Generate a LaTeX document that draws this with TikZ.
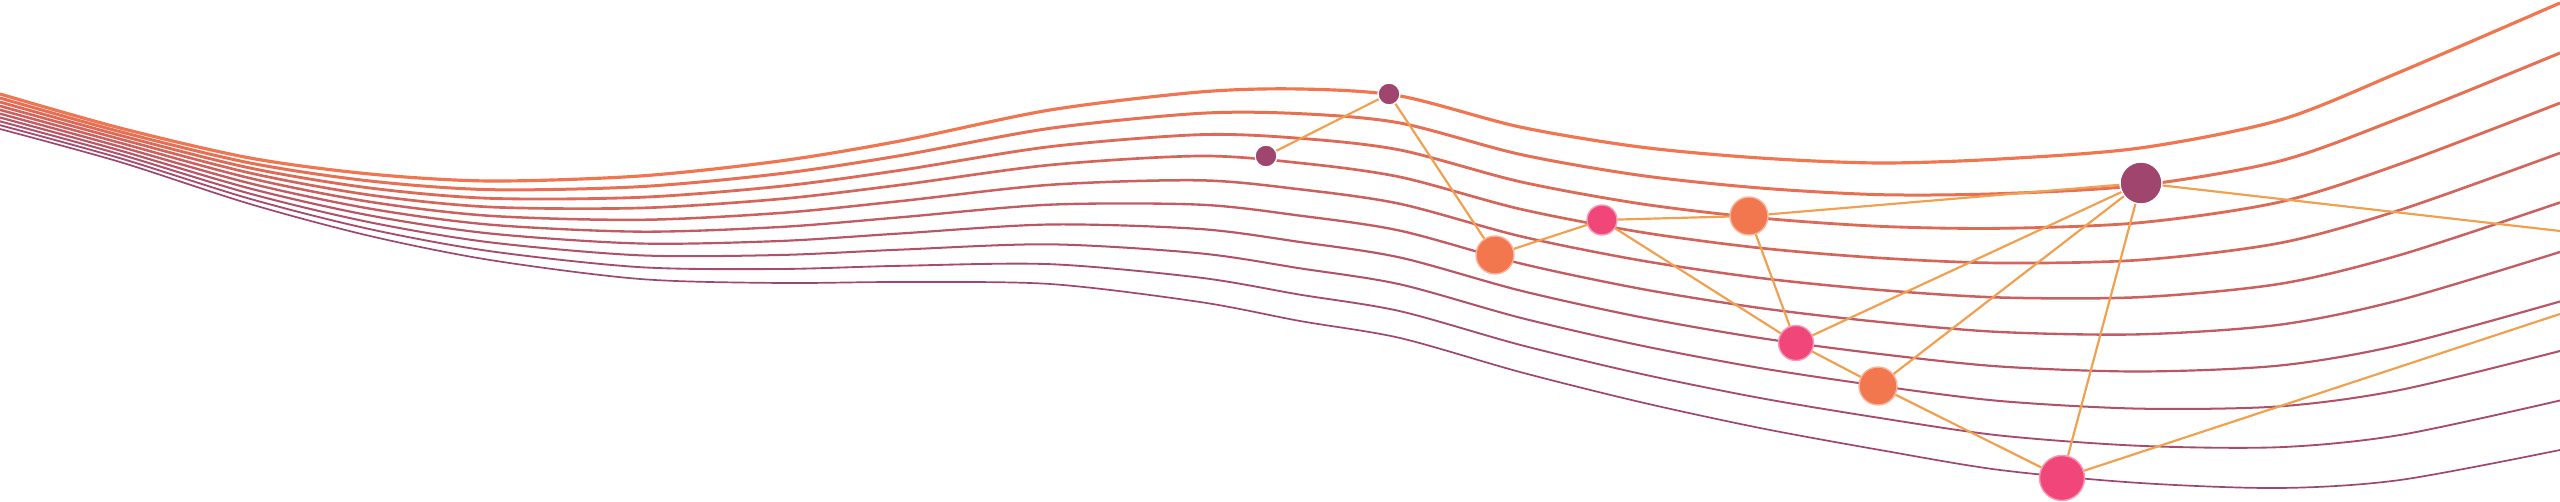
\documentclass[tikz,border=0pt]{standalone}
\usepackage{tikz}
\usepackage{xcolor}
\usetikzlibrary{positioning}

\definecolor{plum}{HTML}{A0466E}
\definecolor{coral}{HTML}{F2774F}
\definecolor{rose}{HTML}{F0467A}
\definecolor{amber}{HTML}{F0A04E}
\definecolor{wavetop}{HTML}{F07550}
\definecolor{wavebot}{HTML}{9E4670}

% y of a wave from the top, the fourth and the bottom one
\newcommand{\wy}[3]{{#1+(#2-#1)*\wa+(#3-#2)*\wb}}

\begin{document}
\begin{tikzpicture}[x=0.1mm,y=-0.1mm]
\tikzstyle{dot}=[circle, inner sep=0pt, line width=0.4pt]
\tikzstyle{plumdot}=[dot, fill=plum, draw=white]
\tikzstyle{coraldot}=[dot, fill=coral, draw=coral!55!white]
\tikzstyle{rosedot}=[dot, fill=rose, draw=rose!55!white]
\tikzstyle{every edge}=[draw=amber, line width=0.62pt]

\useasboundingbox (0,0) rectangle (2560,502);

% waves
\foreach \i in {0,...,9} {
  \pgfmathsetmacro\wa{min(\i,3)/3}
  \pgfmathsetmacro\wb{max(\i-3,0)/6}
  \pgfmathsetmacro\wlw{0.9-0.42*\i/9}
  \pgfmathtruncatemacro\wpc{100-100*\i/9}
  \draw[line width=\wlw pt, draw=wavetop!\wpc!wavebot] plot[smooth] coordinates {
    (0,\wy{94}{106}{129}) (120,\wy{128}{139}{162}) (250,\wy{158}{173}{204})
    (370,\wy{174}{195}{236}) (490,\wy{181}{207}{260}) (640,\wy{176}{208}{279})
    (780,\wy{161}{199}{283}) (900,\wy{141}{185}{282}) (1050,\wy{110}{165}{284})
    (1200,\wy{92}{156}{302}) (1300,\wy{89}{163}{321}) (1400,\wy{96}{177}{338})
    (1520,\wy{127}{209}{372}) (1640,\wy{147}{232}{402}) (1760,\wy{158}{248}{428})
    (1880,\wy{163}{258}{450}) (2000,\wy{159}{263}{470}) (2140,\wy{148}{260}{483})
    (2280,\wy{120}{243}{488}) (2400,\wy{72}{210}{480}) (2560,\wy{3}{153}{450})};
}

\node[plumdot, minimum size=2.2mm] (v1) at (1266,156) {};
\node[plumdot, minimum size=2.2mm] (v2) at (1389,94) {};
\node[coraldot, minimum size=3.8mm] (v3) at (1495,255) {};
\node[rosedot, minimum size=3mm] (v4) at (1602,220) {};
\node[coraldot, minimum size=3.8mm] (v5) at (1749,216) {};
\node[rosedot, minimum size=3.5mm] (v6) at (1796,343) {};
\node[coraldot, minimum size=3.8mm] (v7) at (1878,386) {};
\node[plumdot, minimum size=4.2mm] (v8) at (2141,183) {};
\node[rosedot, minimum size=4.5mm] (v9) at (2062,478) {};
\coordinate (r1) at (2560,231);
\coordinate (r2) at (2560,314);

\path
(v1) edge (v2)
(v2) edge (v3)
(v3) edge (v4)
(v4) edge (v5)
edge (v6)
(v5) edge (v6)
edge (v8)
(v6) edge (v7)
edge (v8)
(v7) edge (v8)
edge (v9)
(v8) edge (v9)
edge (r1)
(v9) edge (r2);
\end{tikzpicture}
\end{document}
